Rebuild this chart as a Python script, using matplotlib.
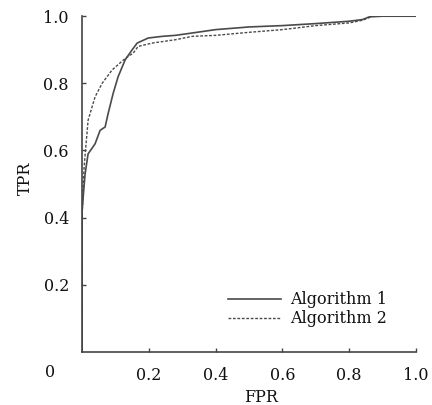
import numpy as np
import matplotlib
matplotlib.use('Agg')
import matplotlib.pyplot as plt

# ROC curves
fpr_alg1 = [0.0, 0.0, 0.004, 0.009, 0.018, 0.039, 0.054, 0.069, 0.078, 0.093, 0.108,
            0.129, 0.15, 0.165, 0.198, 0.24, 0.28, 0.33, 0.4, 0.5, 0.6, 0.7, 0.8, 0.84,
            0.86, 0.9, 1.0]
tpr_alg1 = [0.0, 0.42, 0.47, 0.53, 0.59, 0.62, 0.66, 0.67, 0.71, 0.77, 0.82,
            0.87, 0.90, 0.92, 0.935, 0.94, 0.943, 0.95, 0.96, 0.968, 0.972, 0.978, 0.985, 0.99,
            0.998, 1.0, 1.0]

fpr_alg2 = [0.0, 0.0, 0.003, 0.006, 0.018, 0.039, 0.06, 0.09, 0.13, 0.153, 0.168,
            0.21, 0.28, 0.33, 0.4, 0.5, 0.6, 0.7, 0.8, 0.84, 0.87, 0.9, 1.0]
tpr_alg2 = [0.0, 0.40, 0.48, 0.55, 0.69, 0.76, 0.80, 0.84, 0.875, 0.89, 0.91,
            0.92, 0.93, 0.94, 0.943, 0.952, 0.96, 0.972, 0.98, 0.988, 1.0, 1.0, 1.0]

ticks = [0.2, 0.4, 0.6, 0.8, 1.0]
tick_labels = ['0.2', '0.4', '0.6', '0.8', '1.0']

plt.rcParams['font.family'] = ['DejaVu Serif']
plt.rcParams['font.size'] = 11.5

text_color = '#111111'

fig = plt.figure(figsize=(4.32, 4.05), dpi=100)
ax = fig.add_axes([0.190, 0.131, 0.773, 0.829])

line_color = '#4a4a4a'
ax.plot(fpr_alg1, tpr_alg1, color=line_color, lw=1.2, label='Algorithm 1')
ax.plot(fpr_alg2, tpr_alg2, color=line_color, lw=1.0, ls=(0, (2, 1.2)), label='Algorithm 2')

ax.set_xlim(0, 1.0)
ax.set_ylim(0, 1.0)
ax.set_xticks(ticks)
ax.set_xticklabels(tick_labels)
ax.set_yticks(ticks)
ax.set_yticklabels(tick_labels)

for side in ['top', 'right']:
    ax.spines[side].set_visible(False)
for side in ['left', 'bottom']:
    ax.spines[side].set_color('#444444')
    ax.spines[side].set_linewidth(1.2)

ax.tick_params(axis='both', direction='in', length=3, width=1, color='#444444', labelcolor=text_color)
ax.tick_params(axis='x', pad=10.5)
ax.tick_params(axis='y', pad=9.5)

ax.text(-0.096, -0.06, '0', transform=ax.transData, ha='center', va='center', color=text_color)

fig.text(261 / 432, 1 - 398 / 405, 'FPR', ha='center', va='center', color=text_color)
fig.text(25 / 432, 1 - 178 / 405, 'TPR', ha='center', va='center', rotation=90, color=text_color)

ax.legend(loc='lower right', bbox_to_anchor=(0.955, 0.03), frameon=False, handlelength=3.3,
          handletextpad=0.55, labelspacing=0.15, labelcolor=text_color)

fig.savefig('out.png', dpi=100)
